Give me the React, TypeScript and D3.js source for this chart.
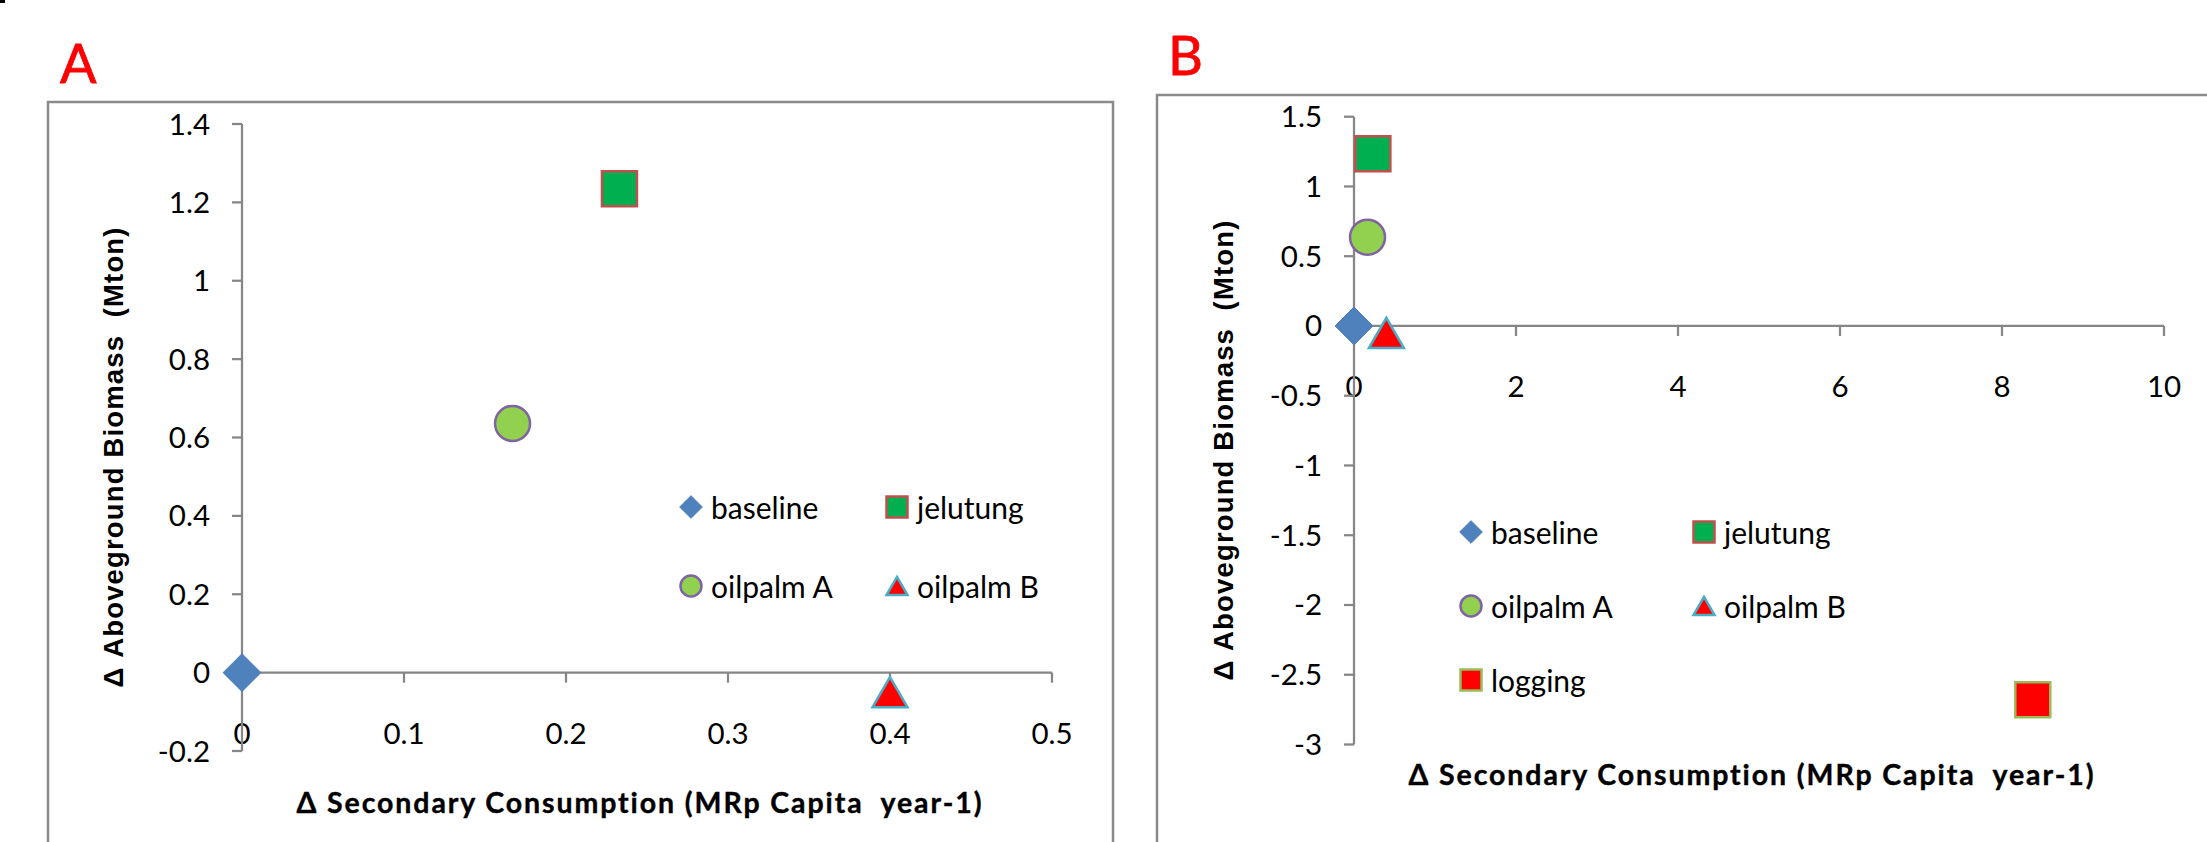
import React from 'react';
import * as d3 from 'd3';

// series (same order in both panels, logging only in B)
const seriesNames = ['baseline', 'jelutung', 'oilpalm A', 'oilpalm B', 'logging'];
const xValuesA = [0, 0.233, 0.167, 0.4];
const yValuesA = [0, 1.235, 0.636, -0.05];
const xValuesB = [0, 0.233, 0.167, 0.4, 8.38];
const yValuesB = [0, 1.235, 0.636, -0.05, -2.68];

const xTicksA = [0, 0.1, 0.2, 0.3, 0.4, 0.5];
const yTicksA = [-0.2, 0, 0.2, 0.4, 0.6, 0.8, 1, 1.2, 1.4];
const xTicksB = [0, 2, 4, 6, 8, 10];
const yTicksB = [-3, -2.5, -2, -1.5, -1, -0.5, 0, 0.5, 1, 1.5];

const xTitle = '\u0394 Secondary Consumption (MRp Capita  year-1)';
const yTitle = '\u0394 Aboveground Biomass  (Mton)';

const shapes = ['diamond', 'square', 'circle', 'triangle', 'square'];
const fills = ['#4F81BD', '#00B050', '#92D050', '#FF0000', '#FF0000'];
const strokes = ['#4A7EBB', '#C0504D', '#8064A2', '#4BACC6', '#9BBB59'];

const AXIS = '#868686';
const NUM_FONT = 'Lato, "Open Sans", sans-serif';
const noLig = { fontVariantLigatures: 'none' as const, whiteSpace: 'pre' as const };

function markerPath(shape: string, s: number) {
  const p = d3.path();
  const h = s / 2;
  if (shape === 'diamond') {
    p.moveTo(0, -h);
    p.lineTo(h, 0);
    p.lineTo(0, h);
    p.lineTo(-h, 0);
    p.closePath();
  } else if (shape === 'square') {
    p.rect(-h, -h, s, s);
  } else if (shape === 'circle') {
    p.moveTo(h, 0);
    p.arc(0, 0, h, 0, Math.PI * 2);
  } else {
    const th = s * 0.866;
    p.moveTo(0, -th / 2);
    p.lineTo(h, th / 2);
    p.lineTo(-h, th / 2);
    p.closePath();
  }
  return p.toString();
}

const fmt = (v: number) => String(+v.toFixed(2));

function Marker({ i, x, y, size }: { i: number; x: number; y: number; size: number }) {
  const s = shapes[i] === 'diamond' ? size * 1.08 : size;
  return (
    <path
      d={markerPath(shapes[i], s)}
      transform={`translate(${x},${y})`}
      fill={fills[i]}
      stroke={strokes[i]}
      strokeWidth={shapes[i] === 'diamond' ? 1 : 2.5}
    />
  );
}

type PanelProps = {
  letter: string;
  letterPos: [number, number];
  frame: [number, number, number, number];
  xDomain: [number, number];
  yDomain: [number, number];
  xRange: [number, number];
  yRange: [number, number];
  xTicks: number[];
  yTicks: number[];
  xs: number[];
  ys: number[];
  legend: { x: number; y: number; dx: number; dy: number };
  xTitleY: number;
  yTitleX: number;
};

function Panel(props: PanelProps) {
  const x = d3.scaleLinear().domain(props.xDomain).range(props.xRange);
  const y = d3.scaleLinear().domain(props.yDomain).range(props.yRange);
  const x0 = x(0);
  const y0 = y(0);
  const [fx, fy, fw, fh] = props.frame;
  const xMid = (props.xRange[0] + props.xRange[1]) / 2;
  const yMid = (props.yRange[0] + props.yRange[1]) / 2;

  return (
    <g>
      <rect x={fx} y={fy} width={fw} height={fh} fill="#fff" stroke="#8a8a8a" strokeWidth={2.5} />
      <text
        x={props.letterPos[0]}
        y={props.letterPos[1]}
        fill="#FF0000"
        stroke="#FF0000"
        strokeWidth={0.8}
        fontFamily={NUM_FONT}
        fontSize={54}
      >
        {props.letter}
      </text>

      {/* tick labels */}
      {props.yTicks.map((t) => (
        <text key={'yl' + t} x={x0 - 32} y={y(t) + 10.5} textAnchor="end" fontFamily={NUM_FONT} fontSize={29.5} fill="#000">
          {fmt(t)}
        </text>
      ))}
      {props.xTicks.map((t) => (
        <text key={'xl' + t} x={x(t)} y={y0 + 71} textAnchor="middle" fontFamily={NUM_FONT} fontSize={29.5} fill="#000">
          {fmt(t)}
        </text>
      ))}

      {/* axes */}
      <line x1={x0} x2={x0} y1={y(props.yDomain[0])} y2={y(props.yDomain[1])} stroke={AXIS} strokeWidth={2.25} />
      {props.yTicks.map((t) => (
        <line key={'yt' + t} x1={x0 - 10} x2={x0} y1={y(t)} y2={y(t)} stroke={AXIS} strokeWidth={2.25} />
      ))}
      <line x1={x0} x2={x(props.xDomain[1])} y1={y0} y2={y0} stroke={AXIS} strokeWidth={2.25} />
      {props.xTicks.map((t) => (
        <line key={'xt' + t} x1={x(t)} x2={x(t)} y1={y0} y2={y0 + 10} stroke={AXIS} strokeWidth={2.25} />
      ))}

      {/* titles */}
      <text
        x={xMid - 8}
        y={props.xTitleY}
        textAnchor="middle"
        fontFamily={NUM_FONT}
        fontWeight="bold"
        fontSize={28.5}
        stroke="#000"
        strokeWidth={0.4}
        textLength={685}
        lengthAdjust="spacing"
        style={noLig}
      >
        {xTitle}
      </text>
      <text
        transform={`translate(${props.yTitleX},${yMid + 20}) rotate(-90)`}
        textAnchor="middle"
        fontFamily='"Liberation Sans", Arial, sans-serif'
        fontWeight="bold"
        fontSize={27.5}
        textLength={460}
        lengthAdjust="spacing"
        style={noLig}
      >
        {yTitle}
      </text>

      {/* points */}
      {props.xs.map((v, i) => (
        <Marker key={'m' + i} i={i} x={x(v)} y={y(props.ys[i])} size={35} />
      ))}

      {/* legend */}
      {props.xs.map((_, i) => {
        const lx = props.legend.x + (i % 2) * props.legend.dx;
        const ly = props.legend.y + Math.floor(i / 2) * props.legend.dy;
        return (
          <g key={'lg' + i}>
            <Marker i={i} x={lx} y={ly} size={21} />
            <text x={lx + 20} y={ly + 11.5} fontFamily={NUM_FONT} fontSize={30} fill="#000" style={noLig}>
              {seriesNames[i]}
            </text>
          </g>
        );
      })}
    </g>
  );
}

export default function App() {
  return (
    <svg
      width={2207}
      height={842}
      style={{ position: 'absolute', left: 0, top: 0, background: '#fff' }}
    >
      <rect x={0} y={0} width={2207} height={842} fill="#fff" />
      <rect x={0} y={0} width={5} height={3} fill="#000" />
      <Panel
        letter="A"
        letterPos={[60, 83]}
        frame={[48, 102, 1065, 800]}
        xDomain={[0, 0.5]}
        yDomain={[-0.2, 1.4]}
        xRange={[242, 1052]}
        yRange={[751, 124]}
        xTicks={xTicksA}
        yTicks={yTicksA}
        xs={xValuesA}
        ys={yValuesA}
        legend={{ x: 691, y: 507, dx: 206, dy: 79 }}
        xTitleY={813}
        yTitleX={123}
      />
      <Panel
        letter="B"
        letterPos={[1168, 75]}
        frame={[1157, 95, 1100, 800]}
        xDomain={[0, 10]}
        yDomain={[-3, 1.5]}
        xRange={[1354, 2164]}
        yRange={[744.5, 116.7]}
        xTicks={xTicksB}
        yTicks={yTicksB}
        xs={xValuesB}
        ys={yValuesB}
        legend={{ x: 1471, y: 532, dx: 233, dy: 74 }}
        xTitleY={785}
        yTitleX={1233}
      />
    </svg>
  );
}
